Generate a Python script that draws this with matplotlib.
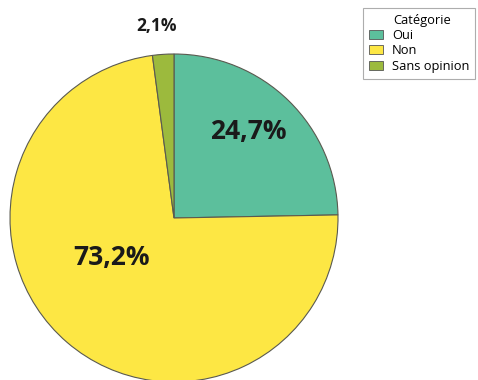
import matplotlib
matplotlib.use('Agg')
import matplotlib.pyplot as plt
from matplotlib.patches import Patch

plt.rcParams['font.family'] = ['Open Sans', 'DejaVu Sans']

categories = ['Oui', 'Non', 'Sans opinion']
values = [24.7, 73.2, 2.1]
colors = ['#5cbf9c', '#fde744', '#9cba3d']

W, H = 478, 380
fig = plt.figure(figsize=(W / 100, H / 100), dpi=100)
ax = fig.add_axes([0, 0, 1, 1])

# pie in pixel units, y measured from the bottom
cx, cy, r = 174, H - 218, 164
ax.pie(values, colors=colors, startangle=90, counterclock=False,
       center=(cx, cy), radius=r, frame=True,
       wedgeprops=dict(edgecolor='#5a5a50', linewidth=0.8))
ax.set_xlim(0, W)
ax.set_ylim(0, H)
ax.set_aspect('equal')
ax.axis('off')

def pct(v):
    return f'{v:.1f}%'.replace('.', ',')

# value labels
ax.text(248, H - 131, pct(values[0]), fontsize=19, fontweight='bold',
        ha='center', va='center', color='#1a1a1a')
ax.text(112, H - 258, pct(values[1]), fontsize=19, fontweight='bold',
        ha='center', va='center', color='#1a1a1a')
ax.text(157, H - 26, pct(values[2]), fontsize=12.5, fontweight='bold',
        ha='center', va='center', color='#1a1a1a')

handles = [Patch(facecolor=c, edgecolor='#555555', linewidth=0.6, label=n)
           for n, c in zip(categories, colors)]
leg = ax.legend(handles=handles, title='Catégorie', loc='upper left',
                bbox_to_anchor=(363 / W, 1 - 8 / H), fontsize=9.3,
                title_fontsize=9.3, frameon=True, fancybox=False,
                handlelength=1.1, handleheight=0.7, handletextpad=0.7,
                labelspacing=0.18, borderpad=0.45, borderaxespad=0)
leg._legend_box.align = 'left'
leg.get_title().set_position((24, 0))
leg.get_frame().set_edgecolor('#999999')
leg.get_frame().set_linewidth(0.8)

fig.savefig('out.png', dpi=100)
